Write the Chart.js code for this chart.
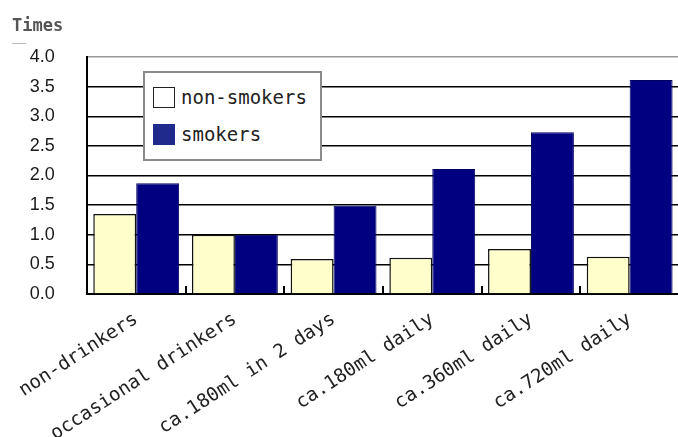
<!DOCTYPE html>
<html>
<head>
<meta charset="utf-8">
<script src="https://cdn.jsdelivr.net/npm/chart.js@4/dist/chart.umd.min.js"></script>
<style>
  html, body { margin: 0; padding: 0; background: #fff; overflow: hidden; width: 678px; height: 437px; }
  #wrap { position: relative; width: 690px; height: 437px; }
  #legend { position: absolute; left: 143px; top: 71px; width: 175px; height: 86px; background: #fff;
            border: 2px solid #8a8a8a; font-family: "DejaVu Sans Mono", monospace; font-size: 19px; color: #222; }
  .item { position: absolute; left: 8px; height: 22px; display: flex; align-items: center; }
  .sw { width: 22px; height: 21px; box-sizing: border-box; margin-right: 6px; }
</style>
</head>
<body>
<div id="wrap">
  <canvas id="c" width="690" height="437"></canvas>
  <div id="legend"></div>
</div>
<script>
const categories = ["non-drinkers", "occasional drinkers", "ca.180ml in 2 days", "ca.180ml daily", "ca.360ml daily", "ca.720ml daily"];
const nonSmokers = [1.35, 1.0, 0.59, 0.61, 0.76, 0.63];
const smokers = [1.87, 1.0, 1.49, 2.11, 2.73, 3.61];
const seriesNames = ["non-smokers", "smokers"];
const yTicks = [0, 0.5, 1.0, 1.5, 2.0, 2.5, 3.0, 3.5, 4.0];
const axisTitle = "Times";

const labelFont = { family: "DejaVu Sans Mono", size: 19 };

const extras = {
  id: "extras",
  afterDraw(chart) {
    const ctx = chart.ctx;
    ctx.save();
    ctx.fillStyle = "#555";
    ctx.font = "bold 17px 'DejaVu Sans Mono'";
    ctx.textBaseline = "alphabetic";
    ctx.fillText(axisTitle, 12, 31);
    ctx.strokeStyle = "#bbb";
    ctx.lineWidth = 1;
    ctx.beginPath(); ctx.moveTo(12, 43.5); ctx.lineTo(26, 43.5); ctx.stroke();
    // inside tick marks at category boundaries
    const xs = chart.scales.x, area = chart.chartArea;
    const half = (xs.getPixelForTick(1) - xs.getPixelForTick(0)) / 2;
    ctx.strokeStyle = "#000"; ctx.lineWidth = 2;
    for (let i = 1; i < categories.length; i++) {
      const px = Math.round(xs.getPixelForTick(i) - half);
      ctx.beginPath(); ctx.moveTo(px, area.bottom); ctx.lineTo(px, area.bottom - 8); ctx.stroke();
    }
    ctx.restore();
  }
};

new Chart(document.getElementById("c"), {
  type: "bar",
  data: {
    labels: categories,
    datasets: [
      { label: seriesNames[0], data: nonSmokers, backgroundColor: "#FFFFCC", borderColor: "#111", borderWidth: 1.5 },
      { label: seriesNames[1], data: smokers, backgroundColor: "#000080", borderColor: "#000060", borderWidth: 1 }
    ]
  },
  plugins: [extras],
  options: {
    responsive: false,
    animation: false,
    layout: { padding: { left: 0, right: 11, top: 57, bottom: 0 } },
    datasets: { bar: { categoryPercentage: 0.87, barPercentage: 1.0 } },
    plugins: {
      legend: { display: false },
      tooltip: { enabled: false },
      title: { display: false }
    },
    scales: {
      x: {
        grid: { display: false, drawTicks: false },
        border: { display: true, color: "#000", width: 2 },
        ticks: { color: "#222", font: labelFont, maxRotation: 33, minRotation: 33, padding: 14, autoSkip: false },
        afterFit: s => { s.height = 143; }
      },
      y: {
        min: 0, max: 4,
        afterBuildTicks: s => { s.ticks = yTicks.map(v => ({ value: v })); },
        grid: { color: ctx => (ctx.tick && ctx.tick.value === 4 ? "#999" : "#000"), lineWidth: 1.5, drawTicks: false },
        border: { display: true, color: "#000", width: 2 },
        ticks: { color: "#1a1a1a", font: { family: "Liberation Sans", size: 18 }, padding: 32,
                 callback: v => Number(v).toFixed(1) },
        afterFit: s => { s.width = 85; }
      }
    }
  }
});

const colors = ["#FFFFFF", "#1e2a8c"];
const legend = document.getElementById("legend");
seriesNames.forEach((name, i) => {
  const it = document.createElement("div");
  it.className = "item";
  it.style.top = (i === 0 ? 13 : 50) + "px";
  const sw = document.createElement("div");
  sw.className = "sw";
  sw.style.background = colors[i];
  sw.style.border = i === 0 ? "1.5px solid #222" : "none";
  const t = document.createElement("span");
  t.textContent = name;
  it.appendChild(sw); it.appendChild(t);
  legend.appendChild(it);
});
</script>
</body>
</html>
